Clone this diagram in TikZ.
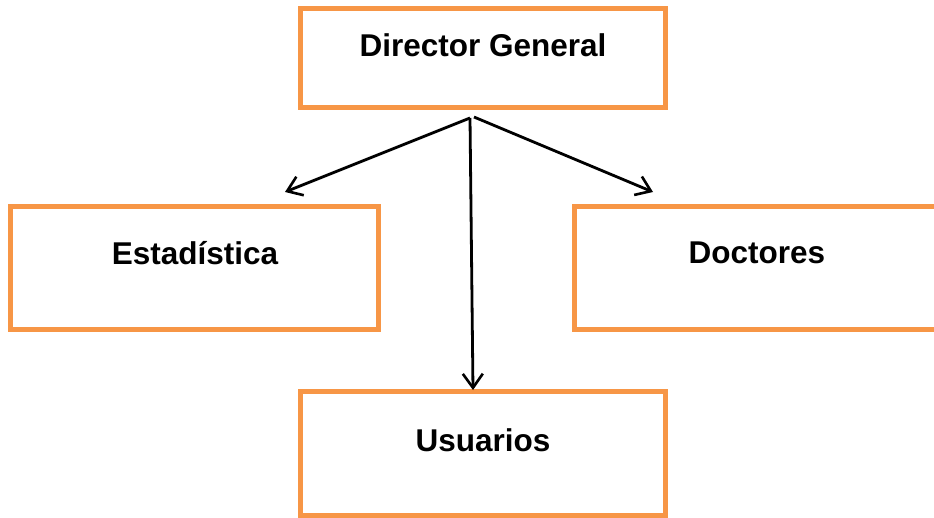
\documentclass[tikz,border=0pt]{standalone}
\usepackage{fontspec}
\setmainfont{Liberation Sans}
\usetikzlibrary{arrows.meta}
\definecolor{boxorange}{HTML}{F79646}
\begin{document}
\begin{tikzpicture}[x=1pt,y=-1pt,
  box/.style={draw=boxorange,line width=5pt,rectangle,inner sep=0pt,fill=white},
  lbl/.style={font=\fontsize{31.5}{38}\selectfont\bfseries,inner sep=0pt,text=black},
  conn/.style={draw=black,line width=2.8pt,-{Straight Barb[length=14pt,width=20pt,line width=2.6pt]}}]
\useasboundingbox (0,0) rectangle (934,517);
\clip (0,0) rectangle (934,517);
\fill[white] (0,0) rectangle (934,517);
% boxes
\node[box,minimum width=365pt,minimum height=99pt] (dg) at (483,58) {};
\node[box,minimum width=368pt,minimum height=123.5pt] (est) at (194.75,267.75) {};
\node[box,minimum width=400pt,minimum height=123.5pt] (doc) at (774.5,267.75) {};
\node[box,minimum width=365pt,minimum height=123.5pt] (usu) at (483,453.25) {};
% labels
\node[lbl] (dgt) at (483,45) {Director General};
\node[lbl] (estt) at (195,253) {Estadística};
\node[lbl] (doct) at (757,253) {Doctores};
\node[lbl] (usut) at (483,440) {Usuarios};
% connectors
\coordinate (s1) at (470,118);
\coordinate (s2) at (474,117);
\coordinate (e1) at (285,192);
\coordinate (e2) at (653,192);
\coordinate (e3) at (473,390);
\draw[conn] (s1) -- (e1);
\draw[conn] (s1) -- (e3);
\draw[conn] (s2) -- (e2);
\end{tikzpicture}
\end{document}
